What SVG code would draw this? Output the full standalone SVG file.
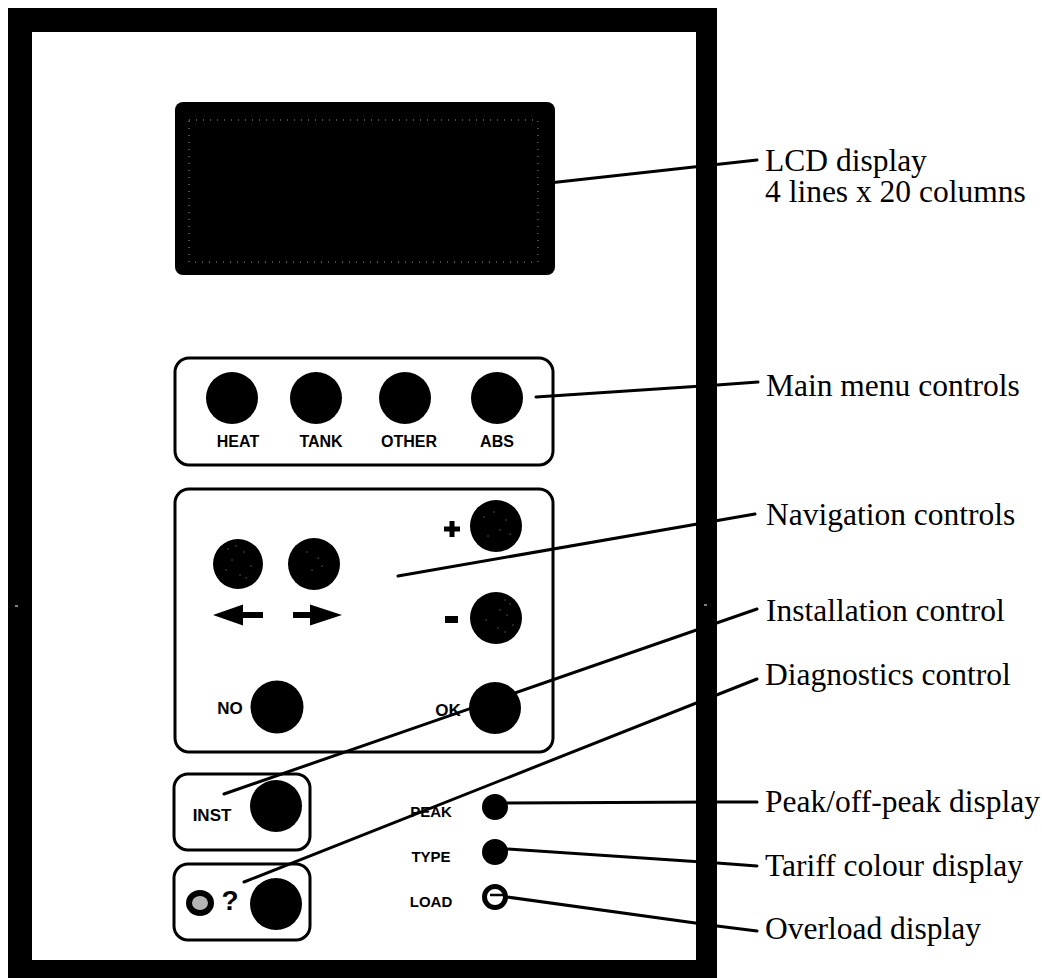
<svg xmlns="http://www.w3.org/2000/svg" width="1042" height="978" viewBox="0 0 1042 978">
<style>
.panel{fill:none;stroke:#000;stroke-width:3}
.b{fill:#000}
.sp{fill:none;stroke:#fff;stroke-width:1;stroke-linecap:round;opacity:.65}
.lcdsp{fill:none;stroke:#9a9a9a;stroke-width:1;stroke-dasharray:1 6}
.lbl{font-family:"Liberation Sans",Arial,sans-serif;font-weight:700;font-size:16px;fill:#000;text-anchor:middle}
.lbl2{font-size:17px}
.lbl3{font-size:15px}
.cap{font-family:"Liberation Serif","Times New Roman",serif;font-size:31.5px;fill:#000}
.ld{fill:none;stroke:#000;stroke-width:3;stroke-linecap:round}
</style>
<rect width="1042" height="978" fill="#fff"/>
<g id="connectors">
<path class="ld" d="M540 184 L757 160"/>
<path class="ld" d="M536 397 L717 385 L758 382"/>
<path class="ld" d="M398 576 L755 514"/>
<path class="ld" d="M224 794 L757 609"/>
<path class="ld" d="M244 882 L757 679"/>
<path class="ld" d="M507 803 L717 802 L757 802"/>
<path class="ld" d="M507 849 L717 863 L757 866"/>
<path class="ld" d="M507 897 L717 926 L757 931"/>
</g>
<g id="frame"><path fill-rule="evenodd" fill="#000" d="M8 8H717V978H8Z M32 32V960H696V32Z"/><path d="M15 606H18 M704 605H707" stroke="#fff" stroke-width="1"/></g>
<g id="lcd"><rect x="175" y="102" width="380" height="173" rx="8" fill="#000"/><rect class="lcdsp" x="189" y="120" width="349" height="142"/></g>
<g id="main-menu">
<rect class="panel" x="175" y="358" width="378" height="107" rx="14"/>
<circle class="b" cx="232" cy="398" r="26"/><circle class="b" cx="316" cy="398" r="26"/><circle class="b" cx="405" cy="398" r="26"/><circle class="b" cx="497" cy="398" r="26"/>
<text class="lbl" x="238" y="447">HEAT</text><text class="lbl" x="321" y="447">TANK</text><text class="lbl" x="409" y="447">OTHER</text><text class="lbl" x="497" y="447">ABS</text>
</g>
<g id="navigation">
<rect class="panel" x="175" y="489" width="378" height="263" rx="14"/>
<circle class="b" cx="238" cy="564" r="25"/><circle class="b" cx="314" cy="564" r="26"/><circle class="b" cx="496" cy="526" r="26"/><circle class="b" cx="496" cy="618" r="26"/>
<path class="sp" d="M228 549h.1M236 546h.1M244 552h.1M251 566h.1M226 570h.1M240 575h.1M232 560h.1M246 578h.1M307 552h.1M318 558h.1M312 570h.1M322 566h.1M484 517h.1M494 512h.1M506 520h.1M510 534h.1M488 536h.1M500 530h.1M505 600h.1M510 604h.1M500 610h.1M507 615h.1M513 625h.1M498 628h.1M505 632h.1M486 620h.1"/>
<path class="b" d="M213 615 L243 604.500 V612 H263 V618 H243 V625.500Z"/>
<path class="b" d="M342 615 L310 604.500 V612 H293 V618 H310 V625.500Z"/>
<path class="b" d="M449.500 521H454.500V526.500H460V531.500H454.500V537H449.500V531.500H444V526.500H449.500Z"/>
<rect class="b" x="445" y="616" width="13" height="7"/>
<text class="lbl lbl2" x="230" y="714">NO</text>
<circle class="b" cx="277" cy="707" r="26.500"/>
<text class="lbl lbl2" x="448" y="716">OK</text>
<circle class="b" cx="495" cy="708" r="26"/>
</g>
<g id="inst">
<rect class="panel" x="174" y="774" width="136" height="76" rx="14"/>
<text class="lbl lbl2" x="212" y="821">INST</text>
<circle class="b" cx="276" cy="806" r="26"/>
</g>
<g id="help">
<rect class="panel" x="174" y="864" width="136" height="76" rx="14"/>
<ellipse cx="200" cy="903" rx="14" ry="13" fill="#000"/><ellipse cx="200" cy="903" rx="8" ry="7" fill="#b5b5b5"/>
<text x="230" y="910" font-family="Liberation Sans,sans-serif" font-weight="700" font-size="28" text-anchor="middle">?</text>
<circle class="b" cx="276" cy="904" r="26"/>
</g>
<g id="indicators">
<text class="lbl lbl3" x="431" y="817">PEAK</text><circle class="b" cx="495" cy="807" r="13"/>
<text class="lbl lbl3" x="431" y="862">TYPE</text><circle class="b" cx="495" cy="852" r="13"/>
<text class="lbl lbl3" x="431" y="907">LOAD</text><circle cx="495" cy="897" r="10.500" fill="#fff" stroke="#000" stroke-width="5"/><path d="M490 895H505" stroke="#000" stroke-width="2.500"/>
</g>
<g id="captions">
<text class="cap" x="765" y="171">LCD display</text><text class="cap" x="765" y="202">4 lines x 20 columns</text>
<text class="cap" x="766" y="396">Main menu controls</text>
<text class="cap" x="766" y="525">Navigation controls</text>
<text class="cap" x="766" y="621">Installation control</text>
<text class="cap" x="765" y="685">Diagnostics control</text>
<text class="cap" x="765" y="812">Peak/off-peak display</text>
<text class="cap" x="765" y="876">Tariff colour display</text>
<text class="cap" x="765" y="939">Overload display</text>
</g>
</svg>
